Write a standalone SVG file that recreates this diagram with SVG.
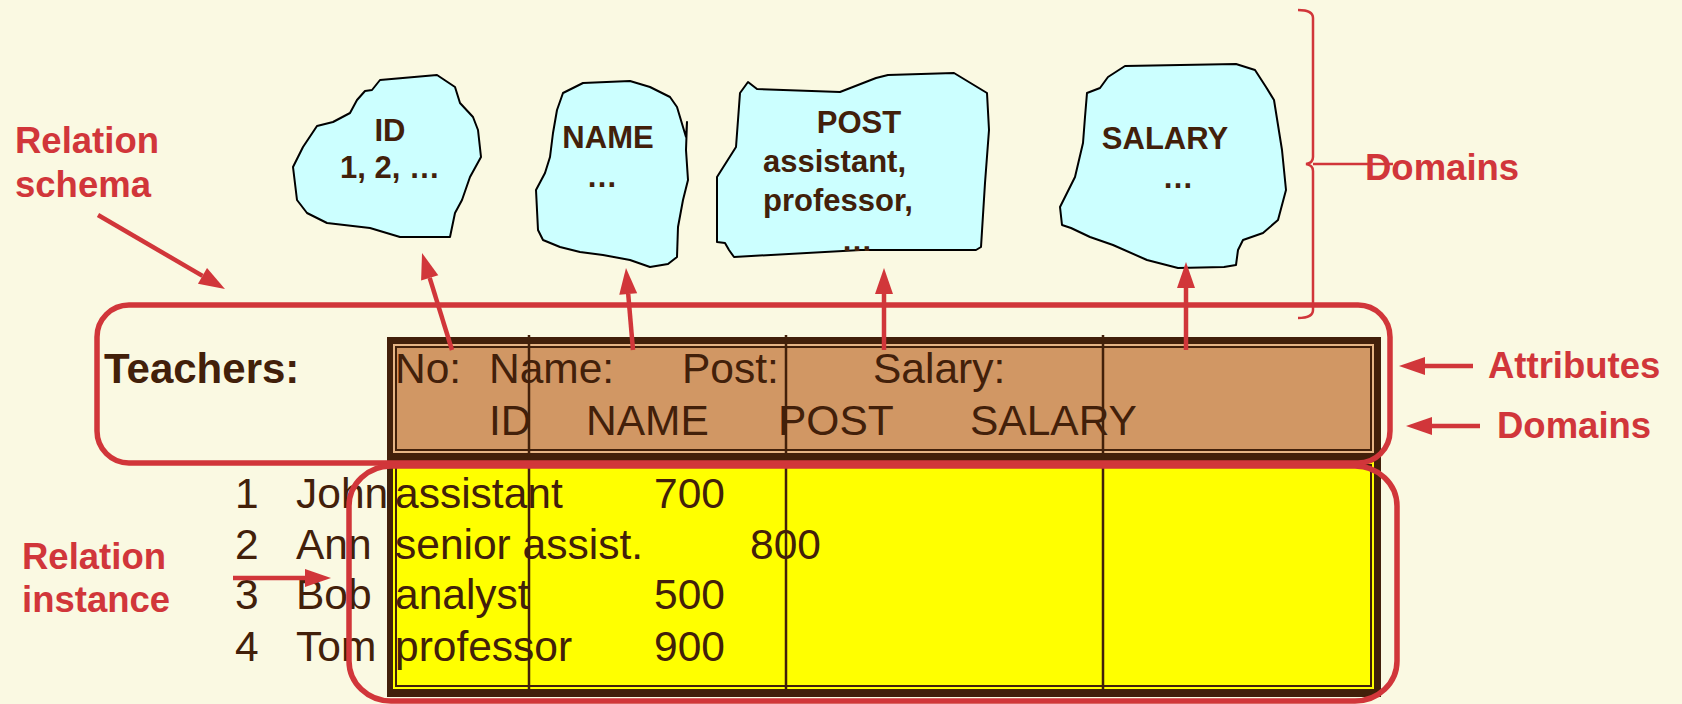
<svg xmlns="http://www.w3.org/2000/svg" width="1682" height="704" viewBox="0 0 1682 704">
  <defs>
    <style>
      .blob { fill: #CCFFFF; stroke: #000000; stroke-width: 2; stroke-linejoin: round; }
      .btxt { font-family: "Liberation Sans", Arial, sans-serif; font-weight: bold; font-size: 31px; fill: #42200A; }
      .ttxt { font-family: "Liberation Sans", Arial, sans-serif; font-size: 42.5px; fill: #42200A; }
      .title { font-family: "Liberation Sans", Arial, sans-serif; font-weight: bold; font-size: 42px; fill: #42200A; }
      .lbl { font-family: "Liberation Sans", Arial, sans-serif; font-weight: bold; font-size: 36.5px; fill: #D1363A; }
      .arrow { stroke: #D1363A; stroke-width: 4.5; fill: none; marker-end: url(#head); }
      .frame { fill: none; stroke: #D1363A; stroke-width: 5.5; }
      .col { stroke: #42200A; stroke-width: 2.5; }
      .inner { fill: none; stroke: #42200A; stroke-width: 2; }
    </style>
    <marker id="head" markerUnits="userSpaceOnUse" markerWidth="26" markerHeight="18" viewBox="0 0 26 18" refX="0" refY="9" orient="auto" overflow="visible">
      <path d="M0,0 L26,9 L0,18 Z" fill="#D1363A"/>
    </marker>
  </defs>

  <!-- background -->
  <rect x="0" y="0" width="1682" height="704" fill="#FAF9E2"/>

  <!-- domain blobs -->
  <g id="domain-id">
    <polygon class="blob" points="380,80 437,75 455,87 460,103 473,117 478,130 481,157 470,177 462,200 455,213 450,237 400,237 370,228 327,223 307,213 297,200 293,167 303,147 317,126 333,122 350,113 357,100 365,91 372,90"/>
    <text class="btxt" x="390" y="141" text-anchor="middle">ID</text>
    <text class="btxt" x="390" y="178" text-anchor="middle">1, 2, …</text>
  </g>
  <g id="domain-name">
    <polygon class="blob" points="563,93 583,83 630,81 650,87 670,97 677,107 683,127 686,137 687,122 686,150 688,180 683,200 678,227 677,257 668,264 650,267 630,260 603,255 580,252 560,247 543,240 538,230 536,190 545,173 550,157 553,133 557,110"/>
    <text class="btxt" x="608" y="148" text-anchor="middle">NAME</text>
    <text class="btxt" x="602" y="187" text-anchor="middle">…</text>
  </g>
  <g id="domain-post">
    <polygon class="blob" points="748,82 757,89 840,92 876,78 888,75 954,73 987,93 989,130 985,183 981,247 976,250 861,250 734,257 729,250 725,243 717,242 717,177 736,147 740,93"/>
    <text class="btxt" x="859" y="133" text-anchor="middle">POST</text>
    <text class="btxt" x="763" y="172">assistant,</text>
    <text class="btxt" x="763" y="211">professor,</text>
    <text class="btxt" x="857" y="251" text-anchor="middle">…</text>
  </g>
  <g id="domain-salary">
    <polygon class="blob" points="1087,93 1100,88 1108,77 1125,66 1236,64 1255,70 1266,87 1274,100 1282,150 1286,190 1278,220 1263,233 1243,240 1238,250 1236,265 1224,267 1178,268 1147,260 1113,245 1090,237 1071,228 1062,225 1060,207 1075,177 1083,143 1085,117"/>
    <text class="btxt" x="1165" y="149" text-anchor="middle">SALARY</text>
    <text class="btxt" x="1178" y="188" text-anchor="middle">…</text>
  </g>

  <!-- relation table -->
  <g id="table">
    <rect x="387" y="337" width="994" height="360" fill="#42200A"/>
    <rect x="393" y="344" width="981" height="109" fill="#E6B585"/>
    <rect x="396" y="347" width="975" height="103" fill="#D19764"/>
    <rect x="396" y="347" width="975" height="103" class="inner"/>
    <rect x="393" y="462" width="981" height="227" fill="#FFFF00"/>
    <rect x="396" y="465" width="975" height="221" class="inner"/>
    <line class="col" x1="529" y1="335" x2="529" y2="690"/>
    <line class="col" x1="786" y1="335" x2="786" y2="690"/>
    <line class="col" x1="1103" y1="335" x2="1103" y2="690"/>

    <text class="title" x="104" y="383">Teachers:</text>

    <text class="ttxt" x="395" y="383">No:</text>
    <text class="ttxt" x="489" y="383">Name:</text>
    <text class="ttxt" x="682" y="383">Post:</text>
    <text class="ttxt" x="873" y="383">Salary:</text>
    <text class="ttxt" x="489" y="435">ID</text>
    <text class="ttxt" x="586" y="435">NAME</text>
    <text class="ttxt" x="778" y="435">POST</text>
    <text class="ttxt" x="970" y="435">SALARY</text>

    <text class="ttxt" x="235" y="508">1</text>
    <text class="ttxt" x="296" y="508">John</text>
    <text class="ttxt" x="395" y="508">assistant</text>
    <text class="ttxt" x="654" y="508">700</text>

    <text class="ttxt" x="235" y="559">2</text>
    <text class="ttxt" x="296" y="559">Ann</text>
    <text class="ttxt" x="395" y="559">senior assist.</text>
    <text class="ttxt" x="750" y="559">800</text>

    <text class="ttxt" x="235" y="609">3</text>
    <text class="ttxt" x="296" y="609">Bob</text>
    <text class="ttxt" x="395" y="609">analyst</text>
    <text class="ttxt" x="654" y="609">500</text>

    <text class="ttxt" x="235" y="661">4</text>
    <text class="ttxt" x="296" y="661">Tom</text>
    <text class="ttxt" x="395" y="661">professor</text>
    <text class="ttxt" x="654" y="661">900</text>
  </g>

  <!-- schema / instance outlines -->
  <g id="schema-frame">
    <rect class="frame" x="97" y="305" width="1293" height="158" rx="32" ry="32"/>
  </g>
  <g id="instance-frame">
    <rect class="frame" x="349" y="466" width="1048" height="235" rx="42" ry="40"/>
  </g>

  <!-- domains brace -->
  <g id="domains-brace" fill="none" stroke="#D1363A" stroke-width="2.5">
    <path d="M1298,10 Q1313,10 1313,18 L1313,157 Q1313,163 1306,164 Q1313,165 1313,171 L1313,310 Q1313,318 1298,318"/>
    <line x1="1313" y1="164" x2="1393" y2="164"/>
  </g>

  <!-- connectors -->
  <g id="connectors">
    <line class="arrow" x1="452" y1="350" x2="429.7" y2="277.8"/>
    <line class="arrow" x1="633" y1="350" x2="628.2" y2="293.9"/>
    <line class="arrow" x1="884" y1="350" x2="884" y2="294"/>
    <line class="arrow" x1="1186" y1="350" x2="1186" y2="288"/>
    <line class="arrow" x1="98" y1="215" x2="202.5" y2="275.9"/>
    <line class="arrow" x1="233" y1="578" x2="305" y2="578"/>
    <line class="arrow" x1="1473" y1="366" x2="1425" y2="366"/>
    <line class="arrow" x1="1480" y1="426" x2="1432" y2="426"/>
  </g>

  <!-- labels -->
  <g id="labels">
    <text class="lbl" x="15" y="153">Relation</text>
    <text class="lbl" x="15" y="197">schema</text>
    <text class="lbl" x="22" y="569">Relation</text>
    <text class="lbl" x="22" y="612">instance</text>
    <text class="lbl" x="1365" y="180">Domains</text>
    <text class="lbl" x="1488" y="378">Attributes</text>
    <text class="lbl" x="1497" y="438">Domains</text>
  </g>
</svg>
